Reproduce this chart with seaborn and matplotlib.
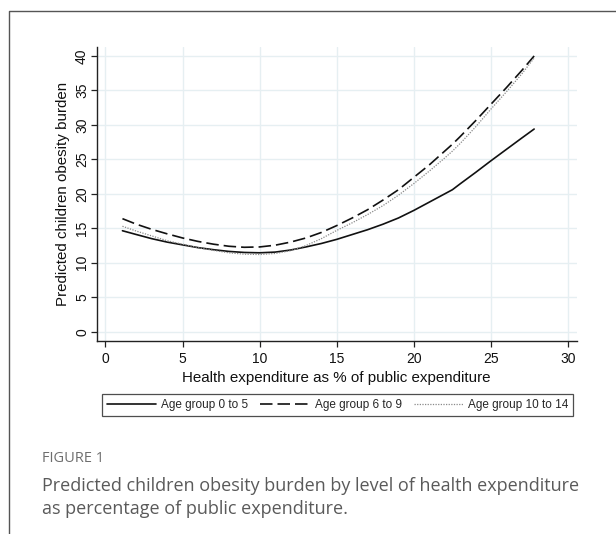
import numpy as np
import pandas as pd
import matplotlib
matplotlib.use("Agg")
import matplotlib.pyplot as plt
from matplotlib.lines import Line2D
import seaborn as sns

# ---- data ----
health_exp = [1.1, 2, 3, 4, 5, 6, 7, 8, 9, 10, 11, 12, 13, 14, 15, 16, 17, 18,
              19, 20, 21, 22, 22.5, 23, 24, 25, 26, 27, 27.8]
age_0_5 = [14.65, 14.1, 13.5, 13.0, 12.6, 12.2, 11.9, 11.65, 11.5, 11.45, 11.55,
           11.85, 12.3, 12.8, 13.4, 14.1, 14.8, 15.6, 16.5, 17.6, 18.8, 20.0,
           20.6, 21.45, 23.1, 24.8, 26.45, 28.1, 29.4]
age_6_9 = [16.4, 15.6, 14.85, 14.2, 13.6, 13.1, 12.7, 12.4, 12.25, 12.3, 12.55,
           13.0, 13.6, 14.4, 15.4, 16.5, 17.7, 19.1, 20.6, 22.4, 24.2, 26.2,
           27.2, 28.3, 30.6, 33.0, 35.4, 37.9, 40.0]
age_10_14 = [15.3, 14.6, 13.9, 13.2, 12.7, 12.2, 11.8, 11.45, 11.25, 11.2, 11.35,
             11.75, 12.5, 13.5, 14.7, 15.8, 17.0, 18.3, 19.8, 21.5, 23.3, 25.2,
             26.2, 27.3, 29.7, 32.3, 34.8, 37.4, 39.7]
series_names = ["Age group 0 to 5", "Age group 6 to 9", "Age group 10 to 14"]
x_ticks = [0, 5, 10, 15, 20, 25, 30]
y_ticks = [0, 5, 10, 15, 20, 25, 30, 35, 40]
x_label = "Health expenditure as % of public expenditure"
y_label = "Predicted children obesity burden"
fig_label = "FIGURE 1"
caption = ("Predicted children obesity burden by level of health expenditure\n"
           "as percentage of public expenditure.")

df = pd.DataFrame({
    "x": health_exp * 3,
    "y": age_0_5 + age_6_9 + age_10_14,
    "group": sum([[n] * len(health_exp) for n in series_names], []),
})

sns.set_theme(style="white")
plt.rcParams["font.family"] = ["Liberation Sans", "DejaVu Sans"]

fig = plt.figure(figsize=(6.16, 5.34), dpi=100)
fig.patch.set_facecolor("white")
W, H = 616, 534
ax = fig.add_axes([96.7 / W, 1 - 340.7 / H, (576.7 - 96.7) / W, (340.7 - 47) / H])

styles = {
    series_names[0]: dict(color="#111111", lw=1.2, ls="-"),
    series_names[1]: dict(color="#111111", lw=1.2, ls=(0, (7.5, 3.0))),
    series_names[2]: dict(color="#8a8a8a", lw=0.9, ls=(0, (1, 1.1))),
}
for name in series_names:
    sub = df[df["group"] == name]
    st = styles[name]
    sns.lineplot(data=sub, x="x", y="y", ax=ax, color=st["color"],
                 linewidth=st["lw"], linestyle=st["ls"], label=name,
                 legend=False, zorder=3)

ax.set_xlim(-0.57, 30.56)
ax.set_ylim(-1.3, 41.3)
ax.set_xticks(x_ticks)
ax.set_yticks(y_ticks)
ax.grid(True, color="#e6eff2", linewidth=1.0, zorder=0)
ax.set_axisbelow(True)
for s in ["top", "right"]:
    ax.spines[s].set_visible(False)
for s in ["left", "bottom"]:
    ax.spines[s].set_color("#222222")
    ax.spines[s].set_linewidth(1.0)
ax.tick_params(axis="both", which="major", direction="out", length=4,
               width=0.9, color="#222222", labelsize=10, labelcolor="#111111",
               left=True, bottom=True)
ax.tick_params(axis="x", pad=4)
ax.tick_params(axis="y", pad=1.5)
for lab in ax.get_yticklabels():
    lab.set_rotation(90)
    lab.set_va("center")
ax.set_xlabel(x_label, fontsize=10.9, color="#111111")
ax.set_ylabel(y_label, fontsize=10.9, color="#111111")
ax.xaxis.set_label_coords(0.5, (340.7 - 378) / (340.7 - 47))
ax.xaxis.label.set_va("center")
ax.yaxis.set_label_coords((63 - 96.7) / (576.7 - 96.7), 0.5)
ax.yaxis.label.set_va("center")

handles = [Line2D([0], [0], color=styles[n]["color"], lw=styles[n]["lw"],
                  ls=styles[n]["ls"]) for n in series_names]
leg = fig.legend(handles, series_names, ncol=3, loc="center",
                 bbox_to_anchor=(102 / W, 1 - 417.7 / H, (573 - 102) / W, (417.7 - 392) / H),
                 mode="expand", fontsize=8.5, handlelength=4.2, handletextpad=0.4,
                 frameon=True, fancybox=False, borderpad=0.4, borderaxespad=0)
leg.get_frame().set_edgecolor("#222222")
leg.get_frame().set_linewidth(0.9)

# outer frame of the figure panel
fig.add_artist(Line2D([9 / W, 9 / W, 1.0], [0.0, 1 - 11 / H, 1 - 11 / H],
                      transform=fig.transFigure, color="#555555", lw=1.0))

fig.text(42 / W, 1 - 459 / H, fig_label, fontsize=10.5, color="#6e6e6e",
         family=["Open Sans", "DejaVu Sans"], va="center", ha="left")
fig.text(42 / W, 1 - 497.5 / H, caption, fontsize=13, color="#5a5a5a",
         family=["Open Sans", "DejaVu Sans"], va="center", ha="left",
         linespacing=1.38)

fig.savefig("out.png", dpi=100, facecolor="white")
